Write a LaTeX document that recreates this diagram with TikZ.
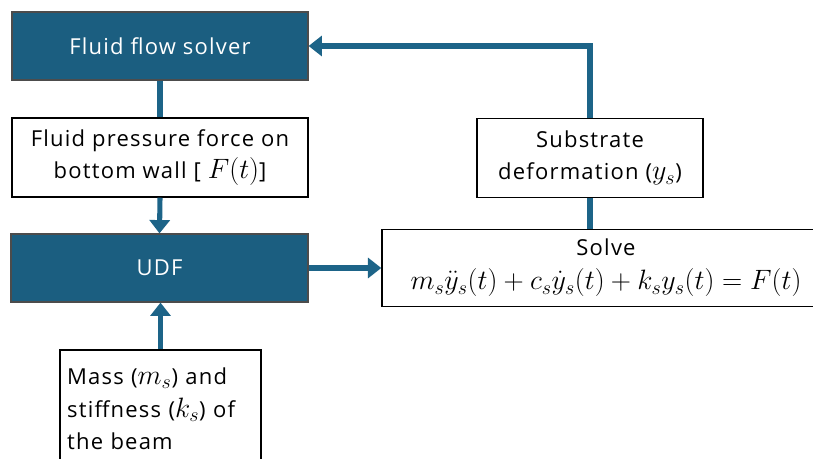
\RequirePackage{fix-cm}
\documentclass[tikz,border=0pt]{standalone}
\usepackage{amsmath,amssymb}
\usepackage{fontspec}
\setmainfont{Open Sans}[LetterSpace=5.5]
\DeclareMathSizes{16.5}{21}{15}{11}
\usepackage{tikz}
\usepackage{xcolor}
\usetikzlibrary{arrows.meta,positioning}
\definecolor{udfblue}{HTML}{1B5E80}
\definecolor{flowline}{HTML}{1D6488}

\begin{document}
\begin{tikzpicture}[x=0.75pt,y=-0.75pt,
  darkbox/.style={draw=black!70,line width=0.9pt,fill=udfblue,text=white,font=\fontsize{16.5}{20}\selectfont,inner sep=0pt},
  whitebox/.style={draw=black,line width=1.1pt,fill=white,align=center,font=\fontsize{16.5}{24.5}\selectfont,inner sep=0pt},
  flow/.style={draw=flowline,line width=3.8pt},
  flowarrow/.style={flow,-{Triangle[length=10pt,width=15pt]}}]
\useasboundingbox (0,0) rectangle (813,459);
\node[darkbox,minimum width=222pt,minimum height=51pt] (solver) at (160,46) {Fluid flow solver};
\node[whitebox,minimum width=222pt,minimum height=59.25pt] (force) at (160,157.5) {Fluid pressure force on\\bottom wall [ $F(t)$]};
\node[darkbox,minimum width=222.75pt,minimum height=51pt] (udf) at (159.5,268) {UDF};
\node[whitebox,minimum width=336pt,minimum height=57.75pt] (solve) at (606,268) {Solve\\[1pt]$m_s\ddot{y}_s(t)+c_s\dot{y}_s(t)+k_sy_s(t)=F(t)$};
\node[whitebox,minimum width=169.5pt,minimum height=59.25pt] (deform) at (590,158) {Substrate\\deformation ($y_s$)};
\node[whitebox,align=left,text width=140pt,minimum width=150.75pt,minimum height=88.5pt] (mass) at (160.5,409) {Mass ($m_s$) and\\stiffness ($k_s$) of\\the beam};
\draw[flow] (solver.south) -- (force.north);
\draw[flowarrow] (force.south) -- (udf.north);
\draw[flowarrow] (udf.east) -- (solve.west |- udf.east);
\draw[flow] (solve.north -| deform.south) -- (deform.south);
\draw[flowarrow] (deform.north) |- (solver.east);
\draw[flowarrow] (mass.north) -- (mass.north |- udf.south);
\end{tikzpicture}
\end{document}
